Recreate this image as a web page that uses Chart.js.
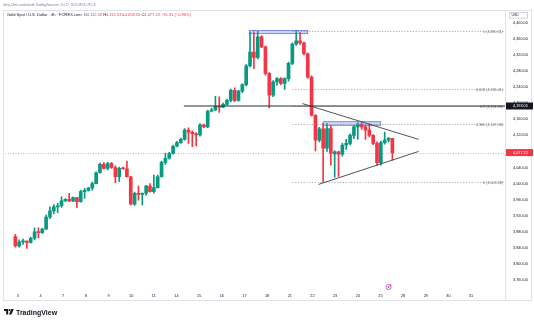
<!DOCTYPE html>
<html>
<head>
<meta charset="utf-8">
<title>Gold Spot / U.S. Dollar 4h</title>
<script src="https://cdn.jsdelivr.net/npm/chart.js@4.4.0/dist/chart.umd.min.js"></script>
<style>
  html, body { margin: 0; padding: 0; background: #fff; }
  #wrap { position: relative; width: 534px; height: 323px; overflow: hidden; font-family: "Liberation Sans", Arial, sans-serif; }
  #chart { position: absolute; left: 0; top: 0; }
  .credit { position: absolute; left: 3px; top: 2.5px; font-size: 3px; line-height: 4px; color: #787b86; white-space: nowrap; }
  .legend { position: absolute; left: 7px; top: 12.5px; font-size: 4px; line-height: 4.4px; color: #131722; white-space: nowrap; }
  .legend .v { color: #f23645; }
  .logo { position: absolute; left: 4px; top: 308px; height: 8px; display: flex; align-items: center; gap: 2px; font-size: 7px; font-weight: bold; color: #131722; }
</style>
</head>
<body>
<div id="wrap">
  <canvas id="chart" width="534" height="323"></canvas>
  <div class="credit">Jerry-Chen created with TradingView.com, Oct 27, 2025 08:51 UTC-8</div>
  <div class="legend">Gold Spot / U.S. Dollar · 4h · FOREX.com &nbsp;O<span class="v">4,112.53</span> H<span class="v">4,112.53</span> L<span class="v">4,058.55</span> C<span class="v">4,077.22</span> <span class="v">−35.31 (−0.86%)</span></div>
  <div class="logo">
    <svg width="10" height="6" viewBox="0 0 10 6"><path d="M0 0h4.2v5.6H2.2V2H0z" fill="#131722"/><circle cx="5.6" cy="1" r="1" fill="#131722"/><path d="M7.4 0h2.4L7.4 5.6H5z" fill="#131722"/></svg>
    <span>TradingView</span>
  </div>
</div>
<script>
// 4h candles, XAUUSD (FOREX.com)
const opens  = [3868, 3845, 3855, 3857, 3854, 3864, 3880, 3878, 3887, 3917, 3932, 3942, 3945, 3957, 3961, 3957, 3965, 3955, 3980, 3983,
                3989, 4000, 4027, 4048, 4038, 4050, 4040, 4017, 4038, 4037, 4017, 3949, 3976, 3973, 3976, 3994, 3980, 3990, 4017, 4053,
                4063, 4075, 4093, 4102, 4110, 4133, 4128, 4124, 4121, 4146, 4141, 4180, 4183, 4192, 4190, 4197, 4207, 4232, 4207, 4230,
                4246, 4293, 4327, 4314, 4365, 4340, 4274, 4220, 4253, 4261, 4249, 4261, 4299, 4347, 4355, 4350, 4323, 4265, 4170, 4108,
                4136, 4088, 4137, 4074, 4079, 4073, 4096, 4100, 4120, 4141, 4148, 4141, 4133, 4120, 4100, 4052, 4102, 4108, 4112.53];
const highs  = [3874, 3860, 3862, 3858, 3867, 3890, 3890, 3889, 3922, 3942, 3948, 3951, 3967, 3963, 3976, 3967, 3966, 3984, 3988, 3991,
                4004, 4029, 4051, 4052, 4053, 4053, 4044, 4041, 4041, 4056, 4018, 3979, 3994, 3977, 3996, 4000, 4021, 4021, 4056, 4076,
                4078, 4096, 4105, 4113, 4137, 4139, 4131, 4127, 4149, 4148, 4183, 4188, 4217, 4216, 4200, 4210, 4235, 4238, 4232, 4248,
                4296, 4377, 4378, 4379, 4368, 4342, 4276, 4256, 4264, 4264, 4263, 4302, 4350, 4380.51, 4376, 4352, 4325, 4268, 4172, 4140,
                4150, 4150, 4145, 4082, 4081, 4100, 4110, 4124, 4145, 4152, 4152, 4146, 4149, 4122, 4104, 4106, 4128, 4115, 4112.53];
const lows   = [3842, 3842, 3849, 3839, 3852, 3860, 3865, 3876, 3886, 3913, 3925, 3928, 3941, 3956, 3955, 3955, 3940, 3954, 3963, 3981,
                3984, 3999, 4026, 4036, 4034, 4038, 4002, 4005, 4035, 4016, 3947, 3946, 3959, 3947, 3971, 3979, 3976, 3989, 4016, 4048,
                4061, 4073, 4091, 4100, 4108, 4100, 4092, 4094, 4118, 4139, 4139, 4178, 4182, 4177, 4189, 4195, 4203, 4204, 4205, 4226,
                4243, 4290, 4286, 4310, 4338, 4270, 4188, 4216, 4245, 4246, 4234, 4255, 4296, 4344, 4346, 4320, 4262, 4168, 4081, 4104,
                4003.28, 4080, 4046, 4016, 4018, 4068, 4085, 4096, 4112, 4110, 4135, 4110, 4116, 4097, 4046, 4046, 4098, 4104, 4058.55];
const closes = [3845, 3855, 3857, 3854, 3864, 3880, 3878, 3887, 3917, 3932, 3942, 3945, 3957, 3961, 3957, 3965, 3955, 3980, 3983, 3989,
                4000, 4027, 4048, 4038, 4050, 4040, 4017, 4038, 4037, 4017, 3949, 3976, 3973, 3976, 3994, 3980, 3990, 4017, 4053, 4063,
                4075, 4093, 4102, 4110, 4133, 4128, 4124, 4121, 4146, 4141, 4180, 4183, 4192, 4190, 4197, 4207, 4232, 4207, 4230, 4246,
                4293, 4327, 4314, 4365, 4340, 4274, 4220, 4253, 4261, 4249, 4261, 4299, 4347, 4355, 4350, 4323, 4265, 4170, 4108, 4136,
                4088, 4137, 4076, 4079, 4073, 4096, 4100, 4120, 4141, 4148, 4141, 4133, 4120, 4100, 4052, 4102, 4108, 4112.53, 4077.22];

// day labels on the time axis (Oct 2025) and price scale ticks
const dayLabels  = ['3', '4', '7', '8', '9', '10', '11', '14', '15', '16', '17', '18', '21', '22', '23', '24', '25', '28', '29', '30', '31'];
const priceTicks = [3760, 3800, 3840, 3880, 3920, 3960, 4000, 4040, 4080, 4120, 4160, 4200, 4240, 4280, 4320, 4360, 4400];

// drawings
const fibLow = 4003.28, fibHigh = 4380.51;
const fibRatios = [1, 0.618, 0.5, 0.382, 0];
const fibStart = 72;
const hLine = { price: 4193.05, from: 43.8 };
const boxes = [
  { x0: 60.8, x1: 76.0, p0: 4373, p1: 4381 },
  { x0: 80.0, x1: 94.95, p0: 4145, p1: 4154 }
];
const trendLines = [
  { x0: 74.65, p0: 4199, x1: 104.8, p1: 4110 },
  { x0: 78.8, p0: 3998, x1: 104.8, p1: 4080 }
];
const eventAt = 97;

const UP = '#089981', DOWN = '#f23645';
const lastClose = closes[closes.length - 1];
const candleColors = closes.map((c, i) => (c >= opens[i] ? UP : DOWN));
const wickData = highs.map((h, i) => ({ x: i, y: [lows[i], h] }));
const bodyData = opens.map((o, i) => ({ x: i, y: [o, closes[i]] }));

const fmt = (v) => v.toLocaleString('en-US', { minimumFractionDigits: 2, maximumFractionDigits: 2 });

function badge(ctx, y, right, text, bg) {
  ctx.fillStyle = bg;
  ctx.fillRect(right + 1, y - 3.5, 533 - right - 1, 7);
  ctx.fillStyle = '#ffffff';
  ctx.font = '3.8px "Liberation Sans", Arial, sans-serif';
  ctx.textAlign = 'left';
  ctx.textBaseline = 'middle';
  ctx.fillText(text, right + 8, y);
}

// drawings, price lines and frame
const overlay = {
  id: 'overlay',
  beforeDatasetsDraw(chart) {
    const { ctx, chartArea: a, scales: { y } } = chart;
    const py = Math.round(y.getPixelForValue(lastClose)) + 0.5;
    ctx.save();
    ctx.strokeStyle = 'rgba(242,54,69,0.45)';
    ctx.lineWidth = 1;
    ctx.setLineDash([1, 1.5]);
    ctx.beginPath();
    ctx.moveTo(a.left, py);
    ctx.lineTo(a.right, py);
    ctx.stroke();
    ctx.restore();
  },
  afterDatasetsDraw(chart) {
    const { ctx, chartArea: a, scales: { x, y } } = chart;
    ctx.save();
    ctx.beginPath();
    ctx.rect(a.left, a.top, a.right - a.left, a.bottom - a.top);
    ctx.clip();

    // rectangles
    boxes.forEach((b) => {
      const l = x.getPixelForValue(b.x0), r = x.getPixelForValue(b.x1);
      const t = y.getPixelForValue(b.p1), btm = y.getPixelForValue(b.p0);
      ctx.fillStyle = 'rgba(120,145,230,0.38)';
      ctx.fillRect(l, t, r - l, btm - t);
      ctx.strokeStyle = 'rgba(70,95,200,0.8)';
      ctx.lineWidth = 0.8;
      ctx.strokeRect(l, t, r - l, btm - t);
    });

    // fib retracement
    ctx.font = '3.7px "Liberation Sans", Arial, sans-serif';
    ctx.textBaseline = 'middle';
    ctx.textAlign = 'right';
    fibRatios.forEach((r) => {
      const v = fibLow + (fibHigh - fibLow) * r;
      const py = Math.round(y.getPixelForValue(v)) + 0.5;
      ctx.strokeStyle = 'rgba(120,123,134,0.75)';
      ctx.lineWidth = 0.8;
      ctx.setLineDash([1.2, 1.6]);
      ctx.beginPath();
      ctx.moveTo(x.getPixelForValue(fibStart), py);
      ctx.lineTo(a.right, py);
      ctx.stroke();
      ctx.setLineDash([]);
      ctx.fillStyle = '#6a6d78';
      ctx.fillText(r + ' (' + fmt(v) + ')', a.right - 2, py);
    });

    // horizontal level
    const hy = y.getPixelForValue(hLine.price);
    ctx.strokeStyle = '#2a2e39';
    ctx.lineWidth = 1.1;
    ctx.beginPath();
    ctx.moveTo(x.getPixelForValue(hLine.from), hy);
    ctx.lineTo(a.right, hy);
    ctx.stroke();

    // triangle trend lines
    ctx.strokeStyle = '#3b3e48';
    ctx.lineWidth = 0.9;
    trendLines.forEach((t) => {
      ctx.beginPath();
      ctx.moveTo(x.getPixelForValue(t.x0), y.getPixelForValue(t.p0));
      ctx.lineTo(x.getPixelForValue(t.x1), y.getPixelForValue(t.p1));
      ctx.stroke();
    });
    ctx.restore();
  },
  afterDraw(chart) {
    const { ctx, chartArea: a, scales: { x, y } } = chart;
    ctx.save();
    // frame
    ctx.strokeStyle = '#e0e3eb';
    ctx.lineWidth = 1;
    ctx.strokeRect(3.5, 10.5, 528, 290);
    ctx.beginPath();
    ctx.moveTo(a.right + 0.5, 10.5);
    ctx.lineTo(a.right + 0.5, 300.5);
    ctx.stroke();

    // USD tag
    ctx.strokeStyle = '#d1d4dc';
    ctx.strokeRect(509.5, 12.5, 18, 5.5);
    ctx.fillStyle = '#131722';
    ctx.font = '3.5px "Liberation Sans", Arial, sans-serif';
    ctx.textBaseline = 'middle';
    ctx.textAlign = 'left';
    ctx.fillText('USD', 511.5, 15.3);

    // price badges
    badge(ctx, y.getPixelForValue(hLine.price), a.right, fmt(hLine.price), '#131722');
    badge(ctx, y.getPixelForValue(lastClose), a.right, fmt(lastClose), DOWN);

    // event marker
    const ex = x.getPixelForValue(eventAt), ey = a.bottom - 3;
    ctx.beginPath();
    ctx.arc(ex, ey, 2.6, 0, Math.PI * 2);
    ctx.fillStyle = '#ffffff';
    ctx.fill();
    ctx.strokeStyle = '#ab47bc';
    ctx.lineWidth = 0.8;
    ctx.stroke();
    ctx.beginPath();
    ctx.arc(ex, ey, 0.9, 0, Math.PI * 2);
    ctx.fillStyle = '#ab47bc';
    ctx.fill();
    ctx.beginPath();
    ctx.arc(ex + 1.9, ey - 1.9, 0.9, 0, Math.PI * 2);
    ctx.fillStyle = '#f23645';
    ctx.fill();
    ctx.restore();
  }
};

new Chart(document.getElementById('chart'), {
  type: 'bar',
  data: {
    datasets: [
      {
        label: 'wicks',
        data: wickData,
        backgroundColor: candleColors,
        barThickness: 1,
        grouped: false,
        order: 2
      },
      {
        label: 'bodies',
        data: bodyData,
        backgroundColor: candleColors,
        barThickness: 3,
        minBarLength: 1,
        grouped: false,
        order: 1
      }
    ]
  },
  options: {
    responsive: false,
    animation: false,
    devicePixelRatio: 1,
    layout: { padding: { left: 3, top: 10, right: 0, bottom: 23 } },
    plugins: { legend: { display: false }, tooltip: { enabled: false } },
    scales: {
      x: {
        type: 'linear',
        min: -0.1,
        max: 124.16,
        grid: { display: false, drawTicks: false },
        border: { display: false },
        afterFit: (s) => { s.height = 10; },
        afterBuildTicks: (s) => {
          s.ticks = dayLabels.map((d, k) => ({ value: 0.65 + k * 5.89 }));
        },
        ticks: {
          autoSkip: false,
          maxRotation: 0,
          padding: 3.5,
          color: '#131722',
          font: { size: 3.8, family: '"Liberation Sans", Arial, sans-serif' },
          callback: (v, i) => dayLabels[i]
        }
      },
      y: {
        position: 'right',
        min: 3735.4,
        max: 4431.1,
        grid: { display: false, drawTicks: false },
        border: { display: false },
        afterFit: (s) => { s.width = 29; },
        afterBuildTicks: (s) => {
          s.ticks = priceTicks.map((v) => ({ value: v }));
        },
        ticks: {
          padding: 8,
          color: '#131722',
          font: { size: 3.8, family: '"Liberation Sans", Arial, sans-serif' },
          callback: (v) => fmt(v)
        }
      }
    }
  },
  plugins: [overlay]
});
</script>
</body>
</html>
